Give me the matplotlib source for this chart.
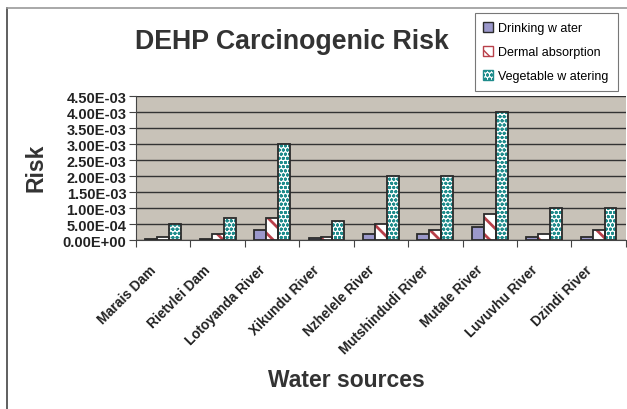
import numpy as np
import matplotlib.pyplot as plt
import matplotlib.transforms as mtransforms
from matplotlib.patches import Patch
from matplotlib.lines import Line2D

plt.rcParams['font.family'] = ['Liberation Sans', 'DejaVu Sans']

# Данные
sources = ['Marais Dam', 'Rietvlei Dam', 'Lotoyanda River', 'Xikundu River',
           'Nzhelele River', 'Mutshindudi River', 'Mutale River',
           'Luvuvhu River', 'Dzindi River']
drinking = [0.2e-4, 0.3e-4, 3.0e-4, 0.5e-4, 2.0e-4, 2.0e-4, 4.0e-4, 1.0e-4, 1.0e-4]
dermal = [1.0e-4, 2.0e-4, 7.0e-4, 1.0e-4, 5.0e-4, 3.0e-4, 8.0e-4, 2.0e-4, 3.0e-4]
vegetable = [5.0e-4, 7.0e-4, 3.0e-3, 6.0e-4, 2.0e-3, 2.0e-3, 4.0e-3, 1.0e-3, 1.0e-3]
series_names = ['Drinking w ater', 'Dermal absorption', 'Vegetable w atering']
y_ticks = np.arange(0, 4.51e-3, 5e-4)

bg = '#c8c2b8'
violet = '#9b98cb'
red = '#b8404a'
teal = '#1f8c8c'
edge = '#2b2b2b'

fig = plt.figure(figsize=(6.27, 4.10), dpi=100)
ax = fig.add_axes([0.217, 0.412, 0.781, 0.351])
ax.set_facecolor(bg)

x = np.arange(len(sources))
w = 0.22

ax.bar(x - w, drinking, w, color=violet, edgecolor=edge, linewidth=1.3, zorder=3)
# толщина штриховки берётся при создании патча
plt.rcParams['hatch.linewidth'] = 2.0
ax.bar(x, dermal, w, color='white', edgecolor=red, hatch='\\\\', linewidth=0, zorder=3)
dermal_handle = Patch(facecolor='white', edgecolor=red, hatch='\\\\')
plt.rcParams['hatch.linewidth'] = 1.0
ax.bar(x, dermal, w, color='none', edgecolor=edge, linewidth=1.3, zorder=4)
ax.bar(x + w, vegetable, w, color='white', edgecolor=teal, hatch='oooo', linewidth=0, zorder=3)
veg_handle = Patch(facecolor='white', edgecolor=teal, hatch='oooo')
ax.bar(x + w, vegetable, w, color='none', edgecolor=edge, linewidth=1.3, zorder=4)

ax.set_xlim(-0.5, len(sources) - 0.5)
ax.set_ylim(0, 4.5e-3)
ax.set_yticks(y_ticks)
ax.set_yticklabels(['%.2E' % v for v in y_ticks], fontsize=10.5, fontweight='bold', color='#222')
ax.yaxis.grid(True, color='#333333', linewidth=1.0, zorder=1)
ax.set_axisbelow(True)

# тики между категориями
ax.set_xticks(np.arange(-0.5, len(sources), 1.0))
ax.set_xticklabels([])
ax.set_xticks(x, minor=True)
ax.set_xticklabels(sources, minor=True, rotation=45, ha='right', rotation_mode='anchor',
                   fontsize=9.8, fontweight='bold', color='#222')
ax.tick_params(axis='x', which='minor', length=0, pad=16)
ax.tick_params(axis='x', which='major', length=5, color='#444')
ax.tick_params(axis='y', length=5, color='#444', pad=2)

# сдвиг подписей немного влево, как в Excel
offset = mtransforms.ScaledTranslation(-0.14, 0, fig.dpi_scale_trans)
for lab in ax.get_xticklabels(minor=True):
    lab.set_transform(lab.get_transform() + offset)

for s in ['top', 'right']:
    ax.spines[s].set_visible(False)
ax.spines['left'].set_color('#444')
ax.spines['bottom'].set_color('#444')

fig.text(0.466, 0.897, 'DEHP Carcinogenic Risk', ha='center', va='center',
         fontsize=19.3, fontweight='bold', color='#333')
fig.text(0.058, 0.59, 'Risk', rotation=90, ha='center', va='center',
         fontsize=16.5, fontweight='bold', color='#333')
fig.text(0.552, 0.073, 'Water sources', ha='center', va='center',
         fontsize=16.5, fontweight='bold', color='#333')

handles = [Patch(facecolor=violet, edgecolor=edge), dermal_handle, veg_handle]
leg = fig.legend(handles, series_names, loc='upper left', bbox_to_anchor=(0.757, 0.965),
                 fontsize=9, frameon=True, fancybox=False, edgecolor='#555',
                 handlelength=0.8, handleheight=0.8, labelspacing=0.95,
                 borderpad=0.7, handletextpad=0.4, borderaxespad=0)
leg.get_frame().set_linewidth(0.8)

# рамка диаграммы
fig.add_artist(Line2D([0.011, 0.011], [0, 0.978], color='#444', linewidth=1.2))
fig.add_artist(Line2D([0.011, 1.0], [0.978, 0.978], color='#999', linewidth=1.2))

fig.savefig('out.png', dpi=100)
